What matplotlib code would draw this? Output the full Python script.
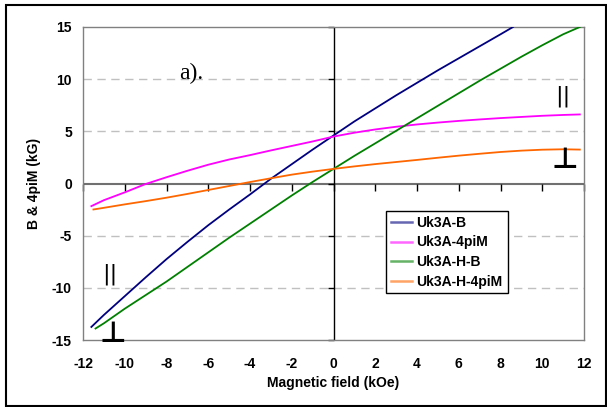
import matplotlib
matplotlib.use("Agg")
import matplotlib.pyplot as plt
from matplotlib.lines import TICKDOWN, TICKLEFT
from matplotlib.patches import Rectangle

plt.rcParams["axes.unicode_minus"] = False

# ---- data ----
b_par_x = [-11.6, -11, -10, -9, -8, -7, -6, -5, -4, -3, -2, -1, 0,
           1, 2, 3, 4, 5, 6, 7, 8, 8.6]
b_par_y = [-13.75, -12.6, -10.8, -9.0, -7.25, -5.6, -4.0, -2.5, -1.05, 0.45, 1.85, 3.25, 4.6,
           5.95, 7.2, 8.45, 9.65, 10.85, 12.0, 13.15, 14.3, 15.0]

m_par_x = [-11.6, -11, -10, -9, -8, -7, -6, -5, -4, -3, -2, -1, 0,
           1, 2, 3, 4, 5, 6, 7, 8, 9, 10, 11, 11.8]
m_par_y = [-2.17, -1.6, -0.85, -0.05, 0.6, 1.22, 1.8, 2.3, 2.72, 3.17, 3.6, 4.03, 4.5,
           4.87, 5.18, 5.44, 5.66, 5.84, 6.0, 6.14, 6.27, 6.38, 6.49, 6.57, 6.62]

b_perp_x = [-11.4, -11, -10, -9, -8, -7, -6, -5, -4, -3, -2, -1, 0,
            1, 2, 3, 4, 5, 6, 7, 8, 9, 10, 11, 11.8]
b_perp_y = [-13.9, -13.4, -12.0, -10.7, -9.4, -8.0, -6.6, -5.2, -3.85, -2.5, -1.15, 0.15, 1.4,
            2.65, 3.85, 5.05, 6.25, 7.45, 8.65, 9.85, 11.0, 12.15, 13.25, 14.3, 15.0]

m_perp_x = [-11.5, -11, -10, -9, -8, -7, -6, -5, -4, -3, -2, -1, 0,
            1, 2, 3, 4, 5, 6, 7, 8, 9, 10, 11, 11.8]
m_perp_y = [-2.49, -2.33, -2.0, -1.69, -1.36, -1.0, -0.62, -0.24, 0.14, 0.5, 0.85, 1.14, 1.4,
            1.64, 1.86, 2.06, 2.26, 2.47, 2.67, 2.85, 3.02, 3.15, 3.24, 3.28, 3.25]

series_labels = ["Uk3A-B", "Uk3A-4piM", "Uk3A-H-B", "Uk3A-H-4piM"]
series_colors = ["#000080", "#FF00FF", "#008000", "#FF6600"]

x_ticks = [-12, -10, -8, -6, -4, -2, 0, 2, 4, 6, 8, 10, 12]
y_ticks = [-15, -10, -5, 0, 5, 10, 15]
grid_levels = [-10, -5, 5, 10]

xlabel = "Magnetic field (kOe)"
ylabel = "B & 4piM (kG)"
panel_label = "a)."

# ---- figure ----
W, H = 607, 407
fig = plt.figure(figsize=(W / 100, H / 100), dpi=100)
ax = fig.add_axes([83 / W, 67 / H, 501 / W, 313 / H])

sans = "Liberation Sans"

for lvl in grid_levels:
    ax.axhline(lvl, color="#c0c0c0", lw=1.0, dashes=(6, 4), zorder=0)

ax.axhline(0, color="#707070", lw=1.5, zorder=1)
ax.axvline(0, color="black", lw=1.0, zorder=1)

# tick marks on the zero axes
ax.plot(x_ticks, [0] * len(x_ticks), ls="none", marker=TICKDOWN, ms=5,
        mew=1.0, color="black", clip_on=False, zorder=2)
ax.plot([0] * len(y_ticks), y_ticks, ls="none", marker=TICKLEFT, ms=4,
        mew=1.0, color="black", clip_on=False, zorder=2)

xs = [b_par_x, m_par_x, b_perp_x, m_perp_x]
ys = [b_par_y, m_par_y, b_perp_y, m_perp_y]
for x, y, lab, col in zip(xs, ys, series_labels, series_colors):
    ax.plot(x, y, color=col, lw=1.3, label=lab, zorder=3)

ax.set_xlim(-12, 12)
ax.set_ylim(-15, 15)
ax.set_xticks(x_ticks)
ax.set_yticks(y_ticks)
ax.tick_params(length=0)
ax.tick_params(axis="x", pad=12)
ax.tick_params(axis="y", pad=8)
for lbl in ax.get_xticklabels() + ax.get_yticklabels():
    lbl.set_fontfamily(sans)
    lbl.set_fontweight("bold")
    lbl.set_fontsize(10)

for s in ax.spines.values():
    s.set_color("#808080")
    s.set_linewidth(1.0)

ax.set_xlabel(xlabel, fontfamily=sans, fontweight="bold", fontsize=10)
ax.set_ylabel(ylabel, fontfamily=sans, fontweight="bold", fontsize=10)
ax.xaxis.label.set_va("center")
ax.xaxis.set_label_coords(0.5, -0.137)
ax.yaxis.label.set_va("center")
ax.yaxis.set_label_coords(-0.098, 0.5)

# annotations
ax.text(-6.8, 10.5, panel_label, fontfamily="Liberation Serif", fontsize=17,
        ha="center", va="center")
ax.text(11.0, 8.4, "||", fontfamily="DejaVu Sans", fontsize=16,
        ha="center", va="center")
ax.text(-10.7, -8.7, "||", fontfamily="DejaVu Sans", fontsize=16,
        ha="center", va="center")
ax.text(11.1, 1.5, "\u22a5", fontfamily="DejaVu Sans", fontweight="bold",
        fontsize=21, ha="center", va="baseline")
ax.text(-10.57, -15.2, "\u22a5", fontfamily="DejaVu Sans", fontweight="bold",
        fontsize=21, ha="center", va="baseline", clip_on=False)

leg = ax.legend(loc="upper left", bbox_to_anchor=((386 - 83) / 501, (340 - 211) / 313),
                frameon=True, fancybox=False, shadow=False, borderaxespad=0,
                prop={"family": sans, "weight": "bold", "size": 10},
                handlelength=1.5, handletextpad=0.35, labelspacing=0.4,
                borderpad=0.35)
leg.get_frame().set_edgecolor("black")
leg.get_frame().set_linewidth(1.0)
leg.get_frame().set_alpha(1)
for h in leg.get_lines():
    h.set_linewidth(1.8)
    h.set_alpha(0.6)

fig.patches.append(Rectangle((6 / W, 1 - 406 / H), 600 / W, 401 / H,
                             transform=fig.transFigure, fill=False,
                             edgecolor="black", lw=1.5))

fig.savefig("out.png", dpi=100)
